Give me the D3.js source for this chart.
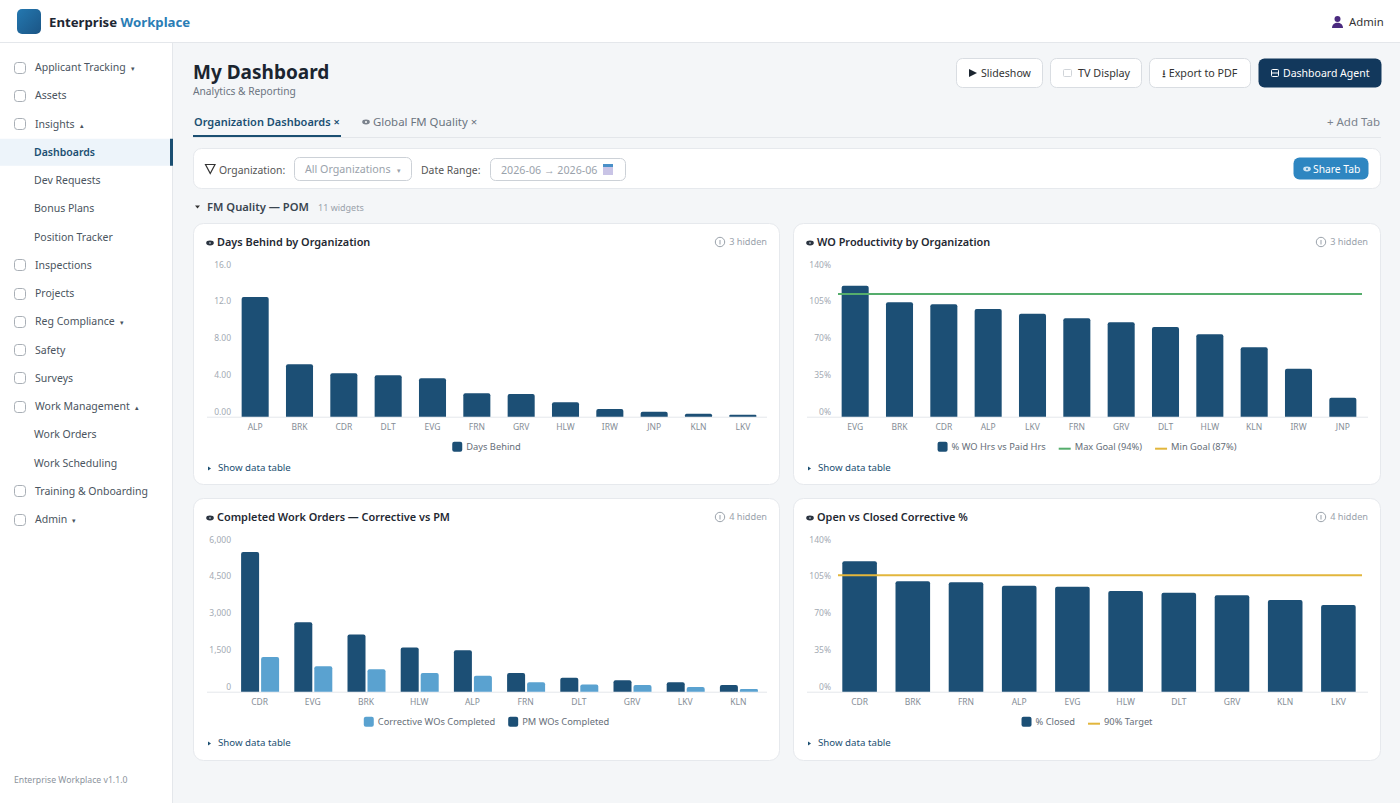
<!DOCTYPE html>
<html>
<head>
<meta charset="utf-8">
<title>My Dashboard</title>
<script src="https://cdn.jsdelivr.net/npm/d3@7"></script>
<style>
    html, body { margin: 0; padding: 0; background: #f4f6f8; overflow: hidden; }
    svg { display: block; }
    text { font-family: "Noto Sans", "Open Sans", sans-serif; }
</style>
</head>
<body>
<svg id="svg" width="1400" height="803"></svg>
<script>
const navItems = ["Applicant Tracking ▾", "Assets", "Insights ▴", "Dashboards", "Dev Requests", "Bonus Plans", "Position Tracker", "Inspections", "Projects", "Reg Compliance ▾", "Safety", "Surveys", "Work Management ▴", "Work Orders", "Work Scheduling", "Training & Onboarding", "Admin ▾"];
const navSubItems = ["Dashboards", "Dev Requests", "Bonus Plans", "Position Tracker", "Work Orders", "Work Scheduling"];

const daysCats = ["ALP", "BRK", "CDR", "DLT", "EVG", "FRN", "GRV", "HLW", "IRW", "JNP", "KLN", "LKV"];
const daysBehind = [13.0, 5.69, 4.71, 4.49, 4.17, 2.54, 2.46, 1.56, 0.84, 0.54, 0.33, 0.22];
const daysTicks = [0, 4, 8, 12, 16];
const daysTickLabels = ["0.00", "4.00", "8.00", "12.0", "16.0"];

const prodCats = ["EVG", "BRK", "CDR", "ALP", "LKV", "FRN", "GRV", "DLT", "HLW", "KLN", "IRW", "JNP"];
const prodValues = [124.4, 108.6, 106.7, 102.3, 97.8, 93.4, 89.6, 85.2, 78.2, 65.9, 45.6, 18];
const prodMaxGoal = 116.5;

const woCats = ["CDR", "EVG", "BRK", "HLW", "ALP", "FRN", "DLT", "GRV", "LKV", "KLN"];
const woPm = [5686, 2829, 2327, 1796, 1686, 763, 571, 461, 380, 273];
const woCorrective = [1416, 1033, 910, 763, 653, 380, 298, 273, 192, 110];
const woTicks = [0, 1500, 3000, 4500, 6000];

const closedCats = ["CDR", "BRK", "FRN", "ALP", "EVG", "HLW", "DLT", "GRV", "KLN", "LKV"];
const closedValues = [123.8, 105, 104, 100.7, 99.7, 95.6, 94, 91.5, 87, 82.3];
const closedTarget = 110.5;

const pctTicks = [0, 35, 70, 105, 140];

const navy = "#1c4f75", light = "#5aa2d0", green = "#55ad6c", gold = "#e2b63c";

const svg = d3.select("#svg");

function label(parent, x, y, str, size, color, weight, anchor) {
    return parent.append("text")
        .attr("x", x).attr("y", y)
        .attr("dy", "0.35em")
        .attr("font-size", size)
        .attr("fill", color)
        .attr("font-weight", weight || 400)
        .attr("text-anchor", anchor || "start")
        .text(str);
}

function box(parent, x, y, w, h, r, fill, stroke) {
    return parent.append("rect")
        .attr("x", x + 0.5).attr("y", y + 0.5)
        .attr("width", w - 1).attr("height", h - 1)
        .attr("rx", r)
        .attr("fill", fill)
        .attr("stroke", stroke || "none");
}

function eye(parent, x, y, color, pupil) {
    parent.append("ellipse").attr("cx", x).attr("cy", y).attr("rx", 3.8).attr("ry", 2.4).attr("fill", color || "#2b3440");
    parent.append("circle").attr("cx", x).attr("cy", y).attr("r", 1).attr("fill", pupil || "#9aa3ad");
}

// rounded on top only, square on the baseline
function barPath(x, y0, w, y1) {
    const r = Math.min(2, (y0 - y1) / 2, w / 2);
    return `M${x},${y0}V${y1 + r}Q${x},${y1} ${x + r},${y1}H${x + w - r}Q${x + w},${y1} ${x + w},${y1 + r}V${y0}Z`;
}

function drawChrome() {
    svg.append("rect").attr("width", 1400).attr("height", 42).attr("fill", "#fff");
    svg.append("rect").attr("y", 42).attr("width", 1400).attr("height", 1).attr("fill", "#e4e7eb");
    svg.append("rect").attr("y", 43).attr("width", 172).attr("height", 760).attr("fill", "#fff");
    svg.append("rect").attr("x", 172).attr("y", 43).attr("width", 1).attr("height", 760).attr("fill", "#e4e7eb");

    const grad = svg.append("defs").append("linearGradient").attr("id", "logo")
        .attr("x1", 0).attr("y1", 0).attr("x2", 1).attr("y2", 1);
    grad.append("stop").attr("offset", "0%").attr("stop-color", "#2478b0");
    grad.append("stop").attr("offset", "100%").attr("stop-color", "#1b5585");
    svg.append("rect").attr("x", 17).attr("y", 9).attr("width", 24).attr("height", 25).attr("rx", 5).attr("fill", "url(#logo)");

    const brand = label(svg, 49, 22, "Enterprise ", 13.2, "#1d2733", 700);
    brand.append("tspan").attr("fill", "#2a7db5").text("Workplace");

    svg.append("circle").attr("cx", 1337.5).attr("cy", 19).attr("r", 3).attr("fill", "#4a2a7f");
    svg.append("path").attr("d", "M1332,28c0-7 11-7 11,0z").attr("fill", "#4a2a7f");
    label(svg, 1349, 22, "Admin", 11.3, "#333");

    const y = d3.scalePoint().domain(navItems).range([67, 519]);
    navItems.forEach(item => {
        const plain = item.replace(/ [▾▴]$/, "");
        const arrow = item.slice(plain.length).trim();
        const sub = navSubItems.includes(plain);
        const active = plain === "Dashboards";
        const cy = y(item) + 0.5;
        if (active) {
            svg.append("rect").attr("y", cy - 13.5).attr("width", 170).attr("height", 27).attr("fill", "#edf4fa");
            svg.append("rect").attr("x", 170).attr("y", cy - 13.5).attr("width", 3).attr("height", 27).attr("fill", "#1b4f72");
        }
        if (!sub) box(svg, 14, Math.round(cy) - 6, 12, 12, 3, "#fff", "#a9afb6");
        const t = label(svg, sub ? 34 : 35, cy, plain, 10.5, active ? "#1b4f72" : "#4a5460", active ? 600 : 400);
        if (arrow) t.append("tspan").attr("dx", 5).attr("font-size", 6.5).text(arrow);
    });
    label(svg, 14, 780, "Enterprise Workplace v1.1.0", 8.7, "#8b939c");

    label(svg, 193, 72, "My Dashboard", 19, "#1b2530", 700);
    label(svg, 193, 91, "Analytics & Reporting", 10.2, "#6b7480");

    box(svg, 956, 58, 87, 30, 6, "#fff", "#d9dde2");
    svg.append("path").attr("d", "M969,69v8l8,-4z").attr("fill", "#1b2530");
    label(svg, 981, 73, "Slideshow", 10.6, "#333");
    box(svg, 1050, 58, 92, 30, 6, "#fff", "#d9dde2");
    box(svg, 1063, 69, 9, 8, 1, "#fff", "#d0d4d9");
    label(svg, 1078, 73, "TV Display", 10.8, "#333");
    box(svg, 1149, 58, 102, 30, 6, "#fff", "#d9dde2");
    label(svg, 1162, 73, "⭳ Export to PDF", 10.7, "#333");
    box(svg, 1258, 58, 124, 30, 6, "#12385c");
    box(svg, 1271, 69, 8, 8, 1, "none", "#fff");
    svg.append("rect").attr("x", 1272).attr("y", 72.5).attr("width", 6).attr("height", 1).attr("fill", "#fff");
    label(svg, 1283, 73, "Dashboard Agent", 10.5, "#fff");

    label(svg, 194, 122, "Organization Dashboards ×", 11, "#1b4f72", 600);
    svg.append("rect").attr("x", 193).attr("y", 135).attr("width", 148).attr("height", 2).attr("fill", "#1b4f72");
    eye(svg, 366, 122, "#7b838d", "#fff");
    label(svg, 373, 122, "Global FM Quality ×", 11.4, "#6b7480");
    label(svg, 1380, 122, "+ Add Tab", 11.5, "#7b838d", 400, "end");
    svg.append("rect").attr("x", 193).attr("y", 137).attr("width", 1188).attr("height", 1).attr("fill", "#e3e6ea");

    box(svg, 193, 148, 1188, 41, 8, "#fff", "#e6e9ed");
    svg.append("path").attr("d", "M205.5,164.5h9.5l-4.75,9z").attr("fill", "none").attr("stroke", "#333").attr("stroke-width", 1.2);
    label(svg, 219, 170, "Organization:", 10.4, "#555");
    box(svg, 294, 157, 118, 24, 5, "#fff", "#ccd1d7");
    const org = label(svg, 305, 169, "All Organizations", 10.7, "#9aa2ab");
    org.append("tspan").attr("dx", 6).attr("font-size", 6.5).text("▾");
    label(svg, 421, 170, "Date Range:", 10.4, "#555");
    box(svg, 490, 158, 136, 23, 5, "#fff", "#ccd1d7");
    label(svg, 501, 170, "2026-06 → 2026-06", 10.7, "#9aa2ab");
    svg.append("rect").attr("x", 603).attr("y", 165).attr("width", 10).attr("height", 10).attr("fill", "#c9c4e6");
    svg.append("rect").attr("x", 603).attr("y", 164).attr("width", 10).attr("height", 3).attr("fill", "#4a90c8");
    box(svg, 1293, 157, 76, 23, 6, "#2e86c1");
    eye(svg, 1307, 169, "#cfe4f3", "#2e86c1");
    label(svg, 1313, 169, "Share Tab", 10.3, "#fff");

    svg.append("path").attr("d", "M195,205.5h5l-2.5,3z").attr("fill", "#333");
    label(svg, 207, 207, "FM Quality — POM", 11.2, "#3a4550", 600);
    label(svg, 318, 208, "11 widgets", 9, "#9aa2ab");
}

function drawCard(c) {
    const g = svg.append("g");
    box(g, c.x, c.y, c.w, c.h, 10, "#fff", "#e6e9ed");
    eye(g, c.x + 17, c.y + 20);
    label(g, c.x + 24, c.y + 19, c.title, 10.9, "#1f2933", 600);
    label(g, c.x + c.w - 13, c.y + 19, c.hidden, 9.2, "#9aa2ab", 400, "end");
    const infoX = c.x + c.w - 60;
    g.append("circle").attr("cx", infoX).attr("cy", c.y + 19).attr("r", 4.7).attr("fill", "none").attr("stroke", "#9aa2ab");
    g.append("rect").attr("x", infoX - 0.5).attr("y", c.y + 17).attr("width", 1).attr("height", 4.5).attr("fill", "#9aa2ab");

    const base = c.y + 193.7;
    const y = d3.scaleLinear().domain(c.yDomain).range([base, base - 147.4]);
    const x = d3.scaleBand().domain(c.cats)
        .range([c.x + 40, c.x + 572])
        .paddingInner(c.padding).paddingOuter(c.padding / 2);

    g.append("rect").attr("x", c.x + 14).attr("y", base).attr("width", c.w - 27).attr("height", 1).attr("fill", "#e4e7eb");

    const yAxis = g.append("g")
        .attr("transform", `translate(${c.x + 38},0)`)
        .call(d3.axisLeft(y).tickValues(c.ticks).tickSize(0).tickPadding(0).tickFormat(c.tickFormat));
    yAxis.select(".domain").remove();
    yAxis.selectAll("text").attr("y", -5).attr("font-size", 8.5).attr("fill", "#a3aab3").style("font-family", '"Noto Sans"');

    const xAxis = g.append("g")
        .attr("transform", `translate(0,${base})`)
        .call(d3.axisBottom(x).tickSize(0).tickPadding(7));
    xAxis.select(".domain").remove();
    xAxis.selectAll("text").attr("font-size", 8.5).attr("fill", "#858d96").style("font-family", '"Noto Sans"');

    c.series.forEach(s => {
        const w = c.series.length > 1 ? 18 : x.bandwidth();
        g.append("g").selectAll("path").data(s.values).join("path")
            .attr("fill", s.color)
            .attr("d", (d, i) => {
                const bx = x(c.cats[i]) + (c.series.length > 1 ? x.bandwidth() / 2 + s.side : 0);
                return barPath(bx, base, w, y(d));
            });
    });

    (c.refLines || []).forEach(l => {
        g.append("line")
            .attr("x1", c.x + 45).attr("x2", c.x + c.w - 19)
            .attr("y1", y(l.value)).attr("y2", y(l.value))
            .attr("stroke", l.color).attr("stroke-width", 2);
    });

    // legend is laid out after measuring, centred on the card
    const legend = g.append("g");
    let lx = 0;
    c.legend.forEach(item => {
        const ly = base + 30;
        if (item.line) {
            legend.append("rect").attr("x", lx).attr("y", ly + 1).attr("width", 12).attr("height", 2).attr("fill", item.color);
            lx += 16;
        } else {
            legend.append("rect").attr("x", lx).attr("y", ly - 5).attr("width", 10).attr("height", 10).attr("rx", 2).attr("fill", item.color);
            lx += 14;
        }
        const t = label(legend, lx, ly, item.name, 9.3, "#666e78");
        lx += t.node().getComputedTextLength() + 13;
    });
    legend.attr("transform", `translate(${c.x + c.w / 2 - (lx - 13) / 2},0)`);

    g.append("path").attr("d", `M${c.x + 15},${c.y + 243.5}l3,2l-3,2z`).attr("fill", "#1b4f72");
    label(g, c.x + 25, c.y + 245, "Show data table", 9.7, "#1b4f72");
}

drawChrome();

drawCard({
    x: 193, y: 223, w: 587, h: 262, title: "Days Behind by Organization", hidden: "3 hidden",
    cats: daysCats, yDomain: [0, 16], ticks: daysTicks, padding: 0.39,
    tickFormat: (d, i) => daysTickLabels[i],
    series: [{ values: daysBehind, color: navy }],
    legend: [{ name: "Days Behind", color: navy }]
});

drawCard({
    x: 793, y: 223, w: 588, h: 262, title: "WO Productivity by Organization", hidden: "3 hidden",
    cats: prodCats, yDomain: [0, 140], ticks: pctTicks, padding: 0.39,
    tickFormat: d => d + "%",
    series: [{ values: prodValues, color: navy }],
    refLines: [{ value: prodMaxGoal, color: green }],
    legend: [
        { name: "% WO Hrs vs Paid Hrs", color: navy },
        { name: "Max Goal (94%)", color: green, line: true },
        { name: "Min Goal (87%)", color: gold, line: true }
    ]
});

drawCard({
    x: 193, y: 498, w: 587, h: 263, title: "Completed Work Orders — Corrective vs PM", hidden: "4 hidden",
    cats: woCats, yDomain: [0, 6000], ticks: woTicks, padding: 0.3,
    tickFormat: d3.format(","),
    series: [
        { values: woPm, color: navy, side: -18.5 },
        { values: woCorrective, color: light, side: 1.5 }
    ],
    legend: [
        { name: "Corrective WOs Completed", color: light },
        { name: "PM WOs Completed", color: navy }
    ]
});

drawCard({
    x: 793, y: 498, w: 588, h: 263, title: "Open vs Closed Corrective %", hidden: "4 hidden",
    cats: closedCats, yDomain: [0, 140], ticks: pctTicks, padding: 0.35,
    tickFormat: d => d + "%",
    series: [{ values: closedValues, color: navy }],
    refLines: [{ value: closedTarget, color: gold }],
    legend: [
        { name: "% Closed", color: navy },
        { name: "90% Target", color: gold, line: true }
    ]
});
</script>
</body>
</html>
